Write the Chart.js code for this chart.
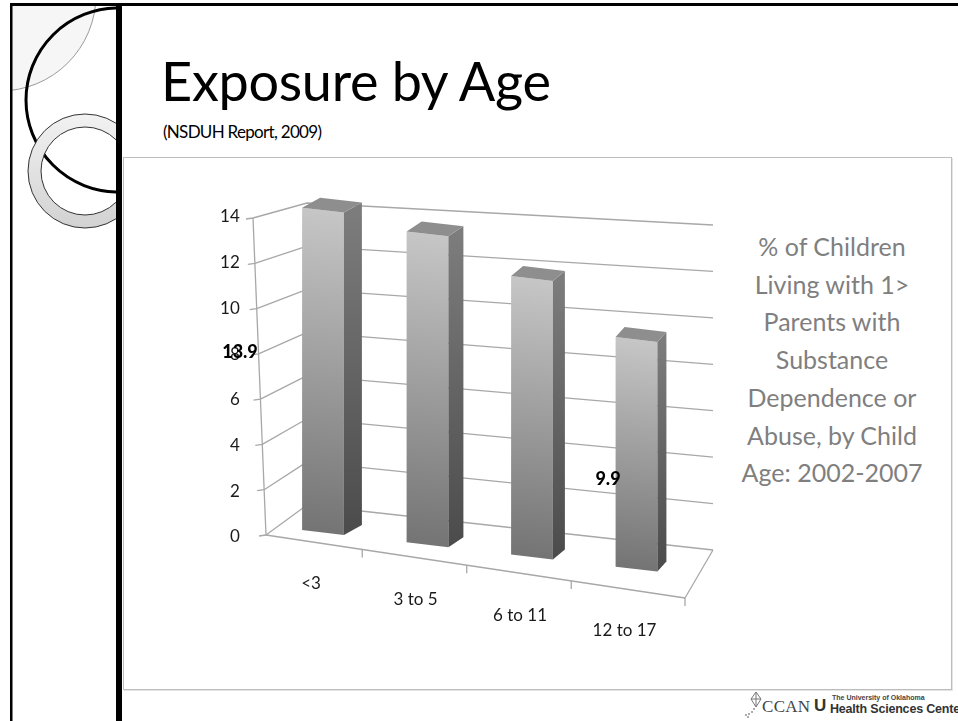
<!DOCTYPE html>
<html>
<head>
<meta charset="utf-8">
<script src="https://cdn.jsdelivr.net/npm/chart.js@4.4.1/dist/chart.umd.min.js"></script>
<style>
html,body{margin:0;padding:0;background:#fff;}
body{width:958px;height:721px;position:relative;overflow:hidden;font-family:Lato,"Open Sans",sans-serif;}
#deco{position:absolute;left:0;top:0;}
#box{position:absolute;left:123px;top:157px;width:827px;height:531px;border:1px solid #bdbdbd;background:#fff;box-shadow:1px 1px 0 #e4e4e4;}
#title{position:absolute;left:161px;top:50px;font-size:54px;line-height:62px;color:#000;white-space:nowrap;letter-spacing:-0.3px;}
#subtitle{position:absolute;left:163px;top:121px;font-size:17px;line-height:22px;color:#000;white-space:nowrap;letter-spacing:-0.7px;}
#side{position:absolute;left:712px;top:228px;width:240px;text-align:center;font-size:25px;line-height:37.7px;color:#7f7f7f;white-space:nowrap;}
#chart{position:absolute;left:0;top:0;}
#logo{position:absolute;left:742px;top:690px;width:216px;height:31px;}
#ccan{position:absolute;left:20px;top:7px;font-family:"Liberation Serif",serif;font-size:17px;color:#444;letter-spacing:0.3px;}
#ou{position:absolute;left:72px;top:6px;font-family:"Liberation Sans",sans-serif;font-weight:bold;font-size:17px;color:#333;}
#univ{position:absolute;left:90px;top:4px;font-family:"Liberation Sans",sans-serif;font-weight:bold;font-size:7px;color:#444;white-space:nowrap;}
#hsc{position:absolute;left:88px;top:12px;font-family:"Liberation Sans",sans-serif;font-weight:bold;font-size:12.5px;color:#333;white-space:nowrap;letter-spacing:-0.2px;}
</style>
</head>
<body>
<svg id="deco" width="958" height="721">
  <defs>
    <clipPath id="lp"><rect x="12" y="5" width="104" height="716"/></clipPath>
    <linearGradient id="rg" x1="0" y1="0" x2="0" y2="1">
      <stop offset="0" stop-color="#f2f2f2"/><stop offset="1" stop-color="#d2d2d2"/>
    </linearGradient>
  </defs>
  <g clip-path="url(#lp)">
    <circle cx="0" cy="-5" r="96" fill="#f6f6f6" stroke="#9a9a9a" stroke-width="1"/>
    <circle cx="118" cy="100" r="92" fill="none" stroke="#000" stroke-width="3"/>
    <path d="M142,171 a57,57 0 1,0 -114,0 a57,57 0 1,0 114,0 Z M129,171 a44,44 0 1,1 -88,0 a44,44 0 1,1 88,0 Z" fill="url(#rg)" fill-rule="evenodd" stroke="#333" stroke-width="1"/>
  </g>
  <rect x="10" y="3" width="948" height="3" fill="#000"/>
  <rect x="10" y="3" width="2.5" height="718" fill="#000"/>
  <rect x="116" y="3" width="6" height="718" fill="#000"/>
</svg>
<div id="box"></div>
<div id="title">Exposure by Age</div>
<div id="subtitle">(NSDUH Report, 2009)</div>
<div id="side"></div>
<div id="logo">
  <svg width="22" height="31" style="position:absolute;left:0;top:0">
    <path d="M14,2 L19,9 L14,17 L9,9 Z M9,9 L19,9 M14,2 L14,17" fill="none" stroke="#777" stroke-width="1"/>
    <circle cx="12" cy="19" r="0.8" fill="#444"/><circle cx="10" cy="22" r="0.8" fill="#444"/>
    <circle cx="7" cy="24" r="0.8" fill="#444"/><circle cx="4" cy="25" r="0.8" fill="#444"/><circle cx="6" cy="27" r="0.8" fill="#444"/>
  </svg>
  <div id="ccan">CCAN</div>
  <div id="ou">U</div>
  <div id="univ">The University of Oklahoma</div>
  <div id="hsc">Health Sciences Center</div>
</div>
<canvas id="chart" width="958" height="721"></canvas>
<script>
// ---- data ----
const categories = ['<3', '3 to 5', '6 to 11', '12 to 17'];
const percentages = [13.9, 13.4, 12.0, 9.9];
const yMin = 0, yMax = 14, yStep = 2;
const sideTitleLines = ['% of Children', 'Living with 1>', 'Parents with', 'Substance', 'Dependence or', 'Abuse, by Child', 'Age: 2002-2007'];
const labelledBars = [0, 3];

document.getElementById('side').innerHTML = sideTitleLines.map(s => s.replace(/&/g,'&amp;').replace(/</g,'&lt;').replace(/>/g,'&gt;')).join('<br>');

// ---- pseudo-3D look (affine approximation of the perspective) ----
const SK = {k: 0.1167, r: 1.015, c: -50.2};
const T = (u, v) => [u, SK.k * u + SK.r * v + SK.c];

function frontGradient(ctx) {
  const chart = ctx.chart, ys = chart.scales && chart.scales.y;
  if (!chart.chartArea || !ys || ctx.type !== 'data') return '#9a9a9a';
  const top = ys.getPixelForValue(ctx.raw), bot = ys.getPixelForValue(0);
  const g = chart.ctx.createLinearGradient(0, top, 0, bot);
  g.addColorStop(0, '#c6c6c6');
  g.addColorStop(1, '#747474');
  return g;
}

const room3d = {
  id: 'room3d',
  beforeDatasetsDraw(chart) {
    const ctx = chart.ctx, ys = chart.scales.y, xs = chart.scales.x, ca = chart.chartArea;
    const H = ca.bottom - ca.top;
    const F = v => { const p = ys.getPixelForValue(v); const f = (ca.bottom - p) / H; return [266 - 13 * f, p - 2 + 3 * f]; };
    const BL = v => { const f = (ca.bottom - ys.getPixelForValue(v)) / H; return [307, 505 - 302 * f]; };
    const BR = v => { const f = (ca.bottom - ys.getPixelForValue(v)) / H; return [713, 550 - 325 * f]; };
    const FR = [685, 598];
    const edgeY = x => F(0)[1] + (x - F(0)[0]) * (FR[1] - F(0)[1]) / (FR[0] - F(0)[0]);
    ctx.save();
    ctx.strokeStyle = '#a8a8a8';
    ctx.lineWidth = 1.3;
    ctx.lineJoin = 'round';
    ys.ticks.forEach(t => {
      const a = F(t.value), b = BL(t.value), c = BR(t.value);
      ctx.beginPath();
      ctx.moveTo(a[0] - 7, a[1] + 1);
      ctx.lineTo(a[0], a[1]);
      ctx.lineTo(b[0], b[1]);
      ctx.lineTo(c[0], c[1]);
      ctx.stroke();
    });
    const a0 = F(yMin), a1 = F(yMax);
    ctx.beginPath(); ctx.moveTo(a0[0], a0[1]); ctx.lineTo(a1[0], a1[1]); ctx.stroke();
    const br0 = BR(yMin);
    ctx.beginPath(); ctx.moveTo(a0[0], a0[1]); ctx.lineTo(FR[0], FR[1]); ctx.lineTo(br0[0], br0[1]); ctx.stroke();
    const n = categories.length;
    for (let i = 0; i < n; i++) {
      let x;
      if (i < n - 1) x = (xs.getPixelForValue(i) + xs.getPixelForValue(i + 1)) / 2 - 13;
      else x = FR[0];
      const y = edgeY(x);
      ctx.beginPath(); ctx.moveTo(x, y); ctx.lineTo(x, y + 8); ctx.stroke();
    }
    ctx.restore();
    chart.$edgeY = edgeY;
    ctx.save();
    ctx.transform(1, SK.k, 0, SK.r, 0, SK.c);
  },
  afterDatasetsDraw(chart) {
    const ctx = chart.ctx, ca = chart.chartArea;
    ctx.restore();
    const meta = chart.getDatasetMeta(0);
    meta.data.forEach(el => {
      const p = el.getProps(['x', 'y', 'base', 'width'], true);
      const l = p.x - p.width / 2, r = p.x + p.width / 2;
      const TL = T(l, p.y), TR = T(r, p.y), BRc = T(r, p.base);
      const frac = (p.x - ca.left) / (ca.right - ca.left);
      const dx = 19.5 - 12 * frac, dy = -10;
      const g = ctx.createLinearGradient(0, TR[1], 0, BRc[1]);
      g.addColorStop(0, '#7c7c7c'); g.addColorStop(1, '#4b4b4b');
      ctx.fillStyle = g;
      ctx.beginPath();
      ctx.moveTo(TR[0], TR[1]); ctx.lineTo(TR[0] + dx, TR[1] + dy);
      ctx.lineTo(BRc[0] + dx, BRc[1] + dy); ctx.lineTo(BRc[0], BRc[1]);
      ctx.closePath(); ctx.fill();
      ctx.fillStyle = '#8e8e8e';
      ctx.beginPath();
      ctx.moveTo(TL[0], TL[1]); ctx.lineTo(TL[0] + dx, TL[1] + dy);
      ctx.lineTo(TR[0] + dx, TR[1] + dy); ctx.lineTo(TR[0], TR[1]);
      ctx.closePath(); ctx.fill();
    });
  },
  afterDraw(chart) {
    const ctx = chart.ctx, xs = chart.scales.x, ys = chart.scales.y;
    ctx.save();
    ctx.textAlign = 'center';
    ctx.textBaseline = 'middle';
    ctx.fillStyle = '#1a1a1a';
    ctx.font = '17px Lato';
    categories.forEach((c, i) => {
      const x = xs.getPixelForValue(i) - 12;
      ctx.fillText(c, x, chart.$edgeY(x) + 42);
    });
    ctx.fillStyle = '#000';
    ctx.font = '900 18px Lato';
    const spots = {0: [-83, 8.1], 3: [-28.5, 2.55]};
    labelledBars.forEach(i => {
      const s = spots[i];
      ctx.fillText(String(percentages[i].toFixed(1)), xs.getPixelForValue(i) + s[0], ys.getPixelForValue(s[1]));
    });
    ctx.restore();
  }
};

new Chart(document.getElementById('chart'), {
  type: 'bar',
  data: {
    labels: categories,
    datasets: [{
      data: percentages,
      backgroundColor: frontGradient,
      borderWidth: 0,
      barPercentage: 0.4,
      categoryPercentage: 1,
      clip: false
    }]
  },
  options: {
    responsive: false,
    animation: false,
    devicePixelRatio: 1,
    layout: {padding: {left: 220.75, right: 269.25, top: 217, bottom: 184}},
    plugins: {legend: {display: false}, tooltip: {enabled: false}, title: {display: false}},
    scales: {
      x: {display: false, offset: true, grid: {display: false}},
      y: {
        min: yMin, max: yMax,
        ticks: {stepSize: yStep, padding: 31, color: '#1a1a1a', font: {family: 'Lato', size: 17}},
        grid: {display: false, drawTicks: false},
        border: {display: false},
        afterFit: s => { s.width = 50; }
      }
    }
  },
  plugins: [room3d]
});
</script>
</body>
</html>
